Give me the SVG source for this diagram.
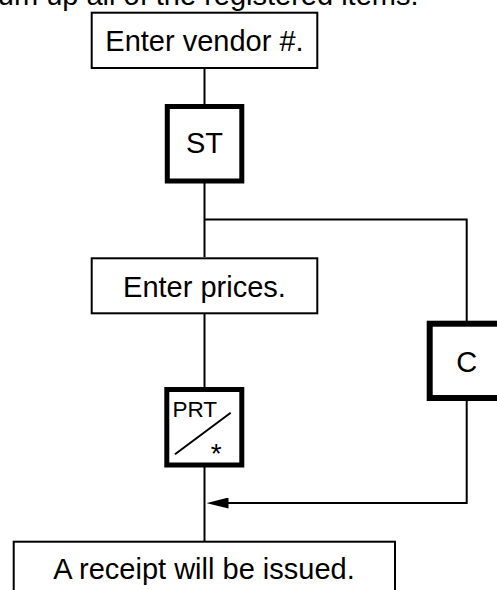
<svg xmlns="http://www.w3.org/2000/svg" width="497" height="590" viewBox="0 0 497 590">
<style>
text{font-family:"Liberation Sans",Arial,Helvetica,sans-serif;fill:#000}
.t{font-size:29px;text-anchor:middle}
.box{fill:#fff;stroke:#000;stroke-width:2}
.key{fill:#fff;stroke:#000;stroke-width:5}
.conn{fill:none;stroke:#000;stroke-width:2}
</style>
<defs>
<marker id="arr" markerUnits="userSpaceOnUse" viewBox="0 0 22 11" refX="16.5" refY="5.5" markerWidth="22" markerHeight="11" orient="auto">
<polygon points="0,0 22,5.5 0,11" fill="#000"/>
</marker>
</defs>
<text id="heading" x="418.5" y="4.5" style="font-size:29px;text-anchor:end">um up all of the registered items.</text>
<g id="connectors">
<path class="conn" d="M204.5 69 V104"/>
<path class="conn" d="M204.5 183 V257"/>
<path class="conn" d="M204.5 219.5 H466.7 V321"/>
<path class="conn" d="M204.5 314 V387"/>
<path class="conn" d="M204.5 467 V541"/>
<path class="conn" d="M466.7 401 V503 H212" marker-end="url(#arr)"/>
</g>
<g id="enter-vendor">
<rect class="box" x="91.7" y="12.7" width="225.6" height="55.3"/>
<text class="t" x="204.5" y="51">Enter vendor #.</text>
</g>
<g id="st">
<rect class="key" x="167.3" y="106.5" width="74.5" height="74.5"/>
<text class="t" x="204.5" y="153">ST</text>
</g>
<g id="enter-prices">
<rect class="box" x="91.7" y="258.3" width="225.6" height="55"/>
<text class="t" x="204.5" y="296.5">Enter prices.</text>
</g>
<g id="c">
<rect x="429.7" y="323.7" width="74" height="74.3" fill="#fff" stroke="#000" stroke-width="6"/>
<text class="t" x="466.7" y="371.7">C</text>
</g>
<g id="prt">
<rect class="key" x="166.8" y="389.5" width="75" height="75.5"/>
<text x="172.5" y="416.7" style="font-size:22.5px">PRT</text>
<line x1="175" y1="454.3" x2="230.7" y2="412.7" stroke="#000" stroke-width="2"/>
<text x="216.3" y="463" style="font-size:28px;text-anchor:middle">*</text>
</g>
<g id="receipt">
<rect class="box" x="13.7" y="541.7" width="381.3" height="60"/>
<text class="t" x="204" y="579.3">A receipt will be issued.</text>
</g>
</svg>
